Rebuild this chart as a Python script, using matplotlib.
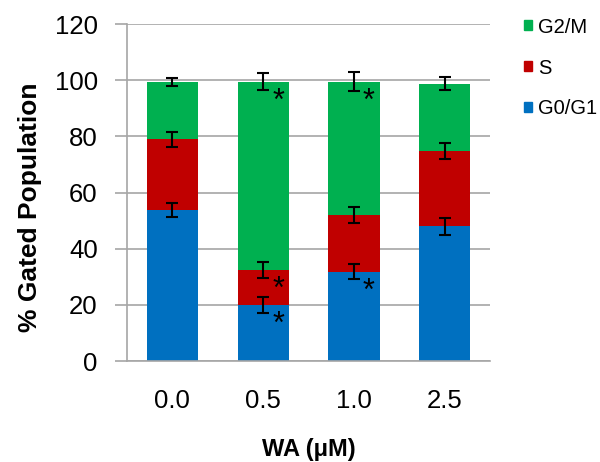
import matplotlib
matplotlib.use("Agg")
import matplotlib.pyplot as plt
from matplotlib.patches import Patch
import numpy as np

plt.rcParams['font.family'] = ['Liberation Sans', 'DejaVu Sans']

categories = ["0.0", "0.5", "1.0", "2.5"]
g0g1 = [53.8, 19.9, 31.8, 47.9]
s_phase = [25.1, 12.6, 20.2, 26.8]
g2m = [20.5, 67.0, 47.5, 24.1]
err_g0g1 = [2.6, 2.8, 2.7, 2.9]
err_s = [2.7, 2.8, 2.8, 2.8]
err_g2m = [1.5, 2.9, 3.4, 2.4]
sig_g0g1 = [False, True, True, False]
sig_s = [False, True, False, False]
sig_g2m = [False, True, True, False]
yticks = [0, 20, 40, 60, 80, 100, 120]

c_blue = "#0070C0"
c_red = "#C00000"
c_green = "#00B050"
grid_c = "#A6A6A6"

fig = plt.figure(figsize=(6.0, 4.62), dpi=100)
ax = fig.add_axes([0.2117, 0.2186, 0.605, 0.7294])

x = np.arange(len(categories))
w = 0.565
b1 = np.array(g0g1)
b2 = b1 + np.array(s_phase)
b3 = b2 + np.array(g2m)

ax.bar(x, g0g1, w, color=c_blue, zorder=2)
ax.bar(x, s_phase, w, bottom=b1, color=c_red, zorder=2)
ax.bar(x, g2m, w, bottom=b2, color=c_green, zorder=2)

for tops, errs, sig in [(b1, err_g0g1, sig_g0g1), (b2, err_s, sig_s), (b3, err_g2m, sig_g2m)]:
    ax.errorbar(x, tops, yerr=errs, fmt='none', ecolor='black', elinewidth=1.5,
                capsize=4, capthick=1.5, zorder=3)
    for xi, t, sg in zip(x, tops, sig):
        if sg:
            ax.text(xi + 0.165, t - 1.8, "*", ha='center', va='top', fontsize=22, zorder=4)

ax.set_xlim(-0.5, len(categories) - 0.5)
ax.set_ylim(0, 120)
ax.set_yticks(yticks)
ax.set_xticks(x)
ax.set_xticklabels(categories)
ax.yaxis.grid(True, color=grid_c, linewidth=1.2, zorder=0)
ax.set_axisbelow(True)

for sp in ['top', 'right']:
    ax.spines[sp].set_visible(False)
for sp in ['left', 'bottom']:
    ax.spines[sp].set_color(grid_c)
    ax.spines[sp].set_linewidth(1.2)

ax.tick_params(axis='y', direction='out', length=9, width=1.2, color=grid_c,
               labelsize=18.5, pad=12)
ax.tick_params(axis='x', length=0, labelsize=18.5, pad=20)

ax.set_ylabel("% Gated Population", fontsize=19, fontweight='bold')
ax.yaxis.set_label_coords(-0.234, 0.455)
ax.set_xlabel("WA (\u03bcM)", fontsize=17, fontweight='bold', va='top')
ax.xaxis.set_label_coords(0.5, -0.228)

handles = [Patch(color=c_green, label="G2/M"), Patch(color=c_red, label="S"),
           Patch(color=c_blue, label="G0/G1")]
fig.legend(handles=handles, loc='upper left', bbox_to_anchor=(0.873, 0.962),
           frameon=False, fontsize=14.5, handlelength=0.4, handleheight=0.4,
           handletextpad=0.3, labelspacing=1.09, borderaxespad=0, borderpad=0)

fig.savefig("out.png", dpi=100)
